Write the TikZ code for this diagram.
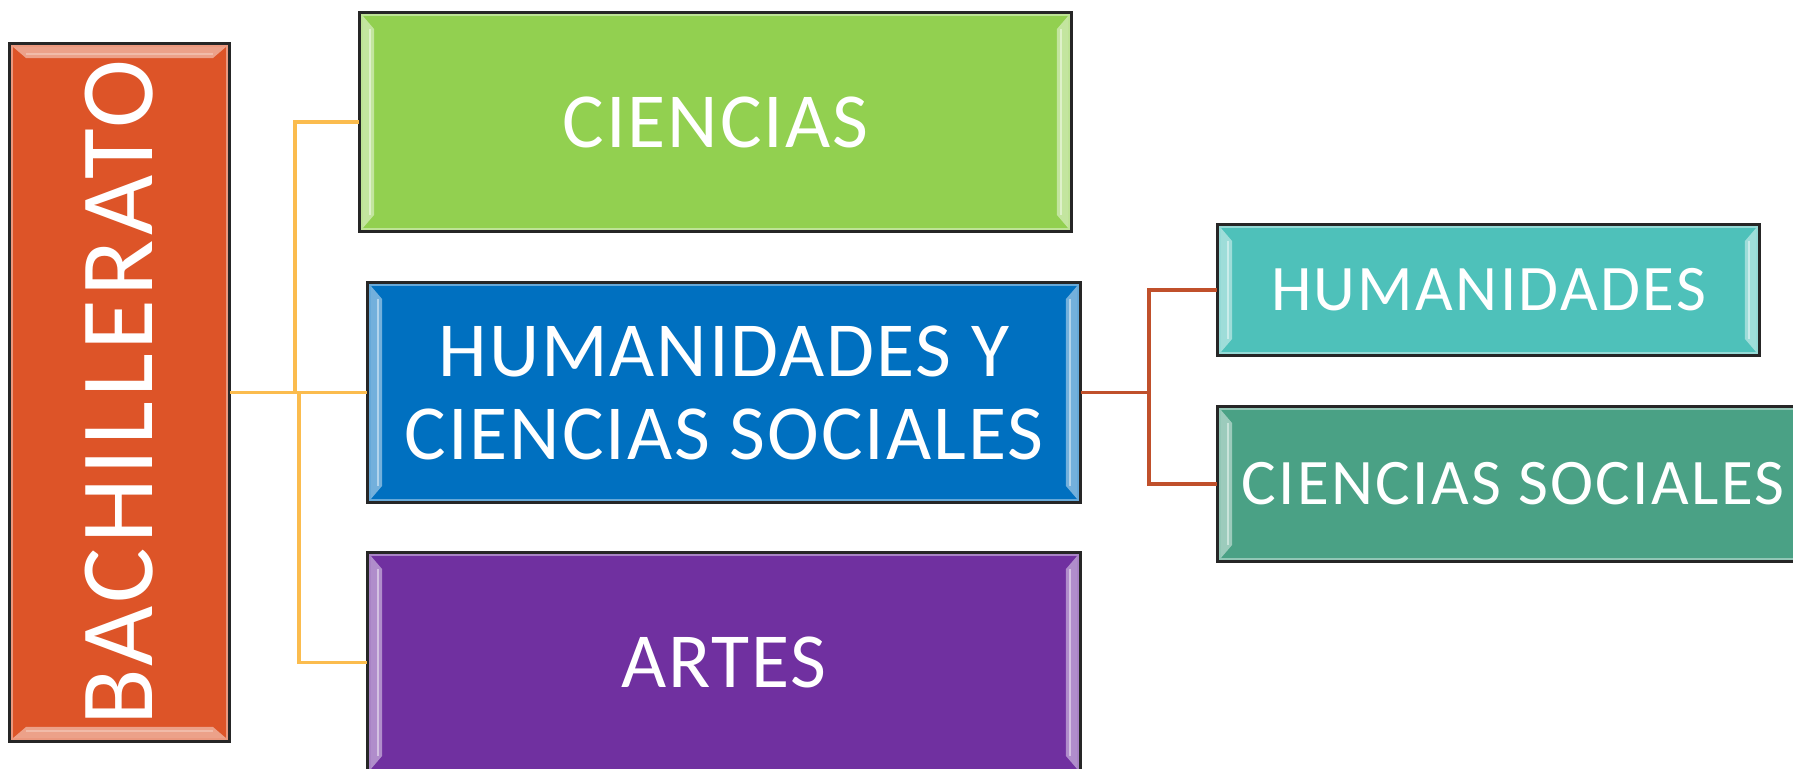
\documentclass[tikz,border=0pt]{standalone}
\usepackage{fontspec}
\setmainfont{Carlito}
\newfontfamily\mainlbl{Carlito}[LetterSpace=2.5]
\newfontfamily\widelbl{Carlito}[LetterSpace=3.6]
\usetikzlibrary{calc}
\definecolor{cOrange}{HTML}{DD5428}
\definecolor{cGreen}{HTML}{92D050}
\definecolor{cBlue}{HTML}{0070C0}
\definecolor{cPurple}{HTML}{7030A0}
\definecolor{cTeal}{HTML}{4EC1BA}
\definecolor{cSea}{HTML}{4AA185}
\definecolor{cLineA}{HTML}{FBBC4E}
\definecolor{cLineB}{HTML}{C0502B}
\newcommand\bevelLR[2]{%
  \fill[#2!55!white] ($(#1.north west)+(3,3)$) -- ($(#1.north west)+(15,17)$) -- ($(#1.south west)+(15,-17)$) -- ($(#1.south west)+(3,-3)$) -- cycle;
  \fill[#2!55!white] ($(#1.north east)+(-3,3)$) -- ($(#1.north east)+(-15,17)$) -- ($(#1.south east)+(-15,-17)$) -- ($(#1.south east)+(-3,-3)$) -- cycle;
  \draw[white!70!#2, line width=1.2pt] ($(#1.north west)+(11,17)$) -- ($(#1.south west)+(11,-17)$);
  \draw[white!70!#2, line width=1.2pt] ($(#1.north east)+(-11,17)$) -- ($(#1.south east)+(-11,-17)$);
  \draw[#2!60!white, line width=1pt] ($(#1.north west)+(2.5,2.5)$) rectangle ($(#1.south east)+(-2.5,-2.5)$);
}
\newcommand\bevelTB[2]{%
  \fill[#2!55!white] ($(#1.north west)+(3,3)$) -- ($(#1.north west)+(17,15)$) -- ($(#1.north east)+(-17,15)$) -- ($(#1.north east)+(-3,3)$) -- cycle;
  \fill[#2!55!white] ($(#1.south west)+(3,-3)$) -- ($(#1.south west)+(17,-15)$) -- ($(#1.south east)+(-17,-15)$) -- ($(#1.south east)+(-3,-3)$) -- cycle;
  \draw[white!60!#2, line width=1.2pt] ($(#1.north west)+(17,11)$) -- ($(#1.north east)+(-17,11)$);
  \draw[white!60!#2, line width=1.2pt] ($(#1.south west)+(17,-11)$) -- ($(#1.south east)+(-17,-11)$);
  \draw[#2!60!white, line width=1pt] ($(#1.north west)+(2.5,2.5)$) rectangle ($(#1.south east)+(-2.5,-2.5)$);
}
\begin{document}
\begin{tikzpicture}[x=0.5pt,y=-0.5pt,
  box/.style={draw=black!85, line width=0.8pt, text=white, inner sep=0pt, align=center},
  label/.style={text=white, inner sep=0pt, align=center, font=\mainlbl\fontsize{39pt}{41.5pt}\selectfont},
  smalllabel/.style={label, font=\widelbl\fontsize{32.5pt}{34pt}\selectfont},
  frame/.style={draw=black!85, line width=0.8pt},
  linkA/.style={draw=cLineA, line width=1.7pt},
  linkB/.style={draw=cLineB, line width=1.7pt}]
\useasboundingbox (0,0) rectangle (1793,769);
\clip (0,0) rectangle (1793,769);
\fill[white] (0,0) rectangle (1793,769);

\node[box, fill=cOrange, minimum width=109.5pt, minimum height=348.5pt] (bach) at (119.5,392.5) {};
\node[box, fill=cGreen, minimum width=355.5pt, minimum height=109pt] (cien) at (715.5,122) {};
\node[box, fill=cBlue, minimum width=356pt, minimum height=109.5pt] (hycs) at (724,392.5) {};
\node[box, fill=cPurple, minimum width=356pt, minimum height=109.5pt] (artes) at (724,662.5) {};
\node[box, fill=cTeal, minimum width=270.5pt, minimum height=65pt] (hum) at (1488.5,290) {};
\node[box, fill=cSea, minimum width=295pt, minimum height=77pt] (cs) at (1513,484) {};

\bevelTB{bach}{cOrange}
\bevelLR{cien}{cGreen}
\bevelLR{hycs}{cBlue}
\bevelLR{artes}{cPurple}
\bevelLR{hum}{cTeal}
\bevelLR{cs}{cSea}

\draw[frame] (bach.north west) rectangle (bach.south east);
\draw[frame] (cien.north west) rectangle (cien.south east);
\draw[frame] (hycs.north west) rectangle (hycs.south east);
\draw[frame] (artes.north west) rectangle (artes.south east);
\draw[frame] (hum.north west) rectangle (hum.south east);
\draw[frame] (cs.north west) rectangle (cs.south east);

\node[label, rotate=90, font=\widelbl\fontsize{52pt}{54pt}\selectfont] (bachtxt) at (bach.center) {BACHILLERATO};
\node[label] (cientxt) at (cien.center) {CIENCIAS};
\node[label] (hycstxt) at (hycs.center) {HUMANIDADES Y\\CIENCIAS SOCIALES};
\node[label] (artestxt) at (artes.center) {ARTES};
\node[smalllabel] (humtxt) at (hum.center) {HUMANIDADES};
\node[smalllabel] (cstxt) at (cs.center) {CIENCIAS SOCIALES};

\coordinate (j1) at (295,392.5);
\coordinate (j2) at (299,392.5);
\coordinate (j3) at (1149,392.5);
\draw[linkA] (bach.east) -- (hycs.west);
\draw[linkA] (j1) |- (cien.west);
\draw[linkA] (j2) |- (artes.west);
\draw[linkB] (hycs.east) -- (j3);
\draw[linkB] (j3) |- (hum.west);
\draw[linkB] (j3) |- (cs.west);
\end{tikzpicture}
\end{document}
